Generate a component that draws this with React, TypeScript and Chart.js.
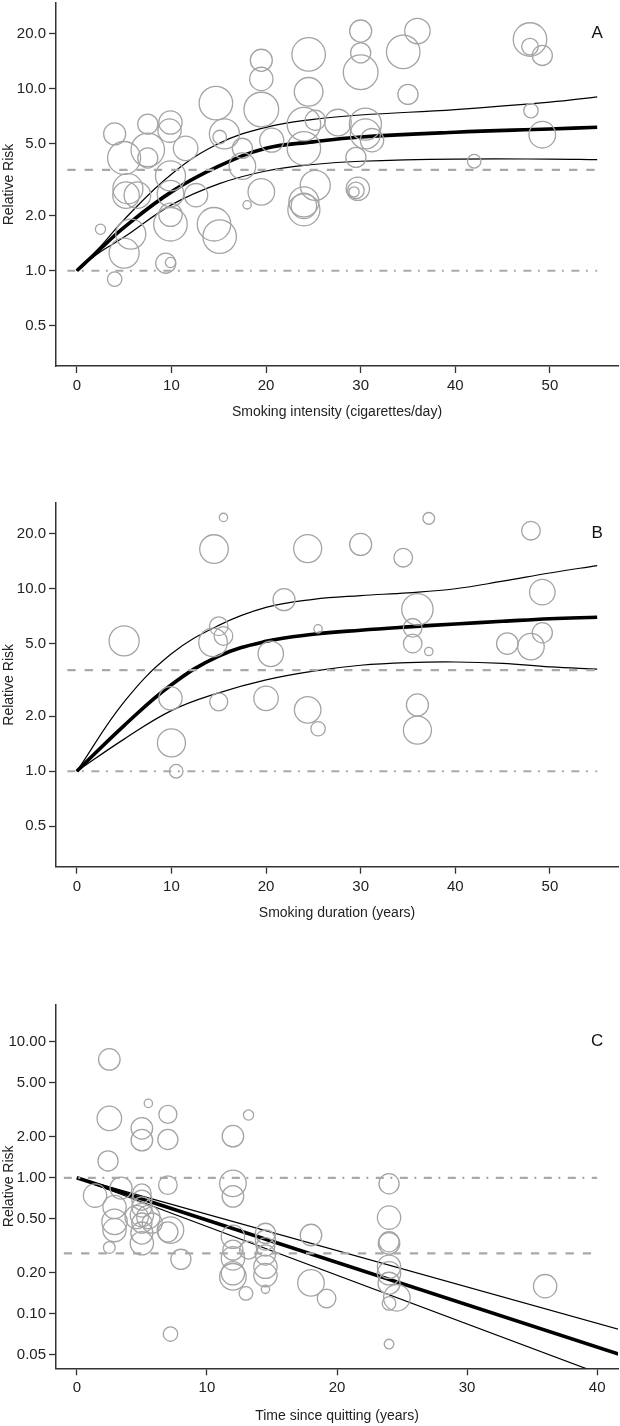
import { useEffect, useRef } from "react";
import { Chart, registerables } from "chart.js";

Chart.register(...registerables);

const FONT = '"Liberation Sans", Arial, Helvetica, sans-serif';

// ---- Panel A: smoking intensity (cigarettes/day) ----
const intensityX = [
  4.0, 5.0, 7.5, 9.9, 9.8, 7.5, 7.5, 11.5, 14.7, 15.6, 15.1, 17.5, 5.4, 5.2, 6.4, 9.9,
  9.9, 9.9, 9.9, 12.6, 5.7, 5.0, 2.5, 9.4, 9.9, 4.0, 14.5, 15.1, 17.5, 18.0, 19.5, 19.5,
  19.5, 20.6, 19.5, 24.5, 24.5, 30.0, 30.0, 30.0, 36.0, 34.5, 35.0, 47.9, 47.9, 49.2,
  48.0, 49.2, 42.0, 24.0, 25.2, 27.6, 30.5, 30.5, 31.2, 24.0, 29.5, 25.2, 24.0, 24.0,
  24.0, 29.7, 29.5, 29.3,
];
const intensityRR = [
  5.64, 4.16, 6.38, 6.51, 5.88, 4.61, 4.16, 4.7, 8.32, 5.64, 5.42, 4.7, 2.82, 2.6, 2.6, 3.32,
  2.65, 2.03, 1.8, 2.6, 1.59, 1.25, 1.69, 1.1, 1.11, 0.9, 1.8, 1.54, 3.75, 2.3, 14.3, 11.3,
  7.67, 5.21, 2.71, 15.4, 9.6, 20.7, 15.7, 12.3, 20.7, 15.9, 9.29, 18.6, 17.0, 15.2,
  7.57, 5.58, 3.99, 6.38, 6.7, 6.51, 6.38, 5.64, 5.21, 4.7, 4.19, 2.94, 2.39, 2.16,
  2.27, 2.82, 2.76, 2.71,
];
const intensityWeight = [
  42, 94, 35, 47, 47, 97, 35, 52, 97, 78, 16, 35, 78, 61, 61, 78,
  61, 47, 97, 47, 78, 78, 9, 35, 9, 18, 97, 97, 61, 6, 42, 47,
  104, 50, 61, 97, 71, 42, 35, 104, 56, 97, 35, 97, 24, 35,
  18, 61, 16, 97, 35, 61, 89, 78, 47, 97, 35, 78, 78, 89,
  56, 47, 24, 9,
];
const intensityCurveX = [0, 2.5, 5, 10, 15, 20, 25, 30, 40, 50, 55];
const intensityFit = [1, 1.32, 1.73, 2.71, 3.75, 4.7, 5.1, 5.42, 5.76, 6.0, 6.13];
const intensityUpper = [1, 1.36, 1.91, 3.39, 4.99, 6.13, 6.78, 7.16, 7.67, 8.42, 9.0];
const intensityLower = [1, 1.27, 1.53, 2.3, 3.0, 3.53, 3.83, 3.99, 4.1, 4.1, 4.07];

// ---- Panel B: smoking duration (years) ----
const durationX = [
  15.5, 14.5, 24.4, 5.0, 15.0, 15.5, 14.4, 21.9, 20.5, 9.9, 15.0, 20.0, 24.4, 10.0, 10.5,
  37.2, 48.0, 30.0, 34.5, 49.2, 36.0, 35.5, 35.5, 37.2, 25.5, 45.5, 48.0, 49.2, 36.0, 36.0, 25.5,
];
const durationRR = [
  24.6, 16.5, 16.6, 5.18, 6.23, 5.51, 5.08, 8.71, 4.4, 2.51, 2.4, 2.51, 2.17, 1.43, 1.0,
  24.3, 20.8, 17.5, 14.8, 9.58, 7.71, 6.11, 5.01, 4.53, 6.03, 5.01, 4.82, 5.74, 2.31, 1.68, 1.71,
];
const durationWeight = [
  6, 71, 68, 78, 30, 30, 71, 42, 56, 47, 28, 52, 61, 68, 16,
  12, 30, 42, 30, 56, 85, 30, 30, 6, 6, 40, 61, 35, 42, 68, 18,
];
const durationCurveX = [0, 5, 10, 15, 20, 25, 30, 35, 40, 45, 50, 55];
const durationFit = [1, 1.78, 2.98, 4.28, 5.15, 5.63, 5.93, 6.18, 6.41, 6.63, 6.85, 6.98];
const durationUpper = [1, 2.4, 4.4, 6.3, 7.9, 8.75, 9.18, 9.5, 10.0, 11.0, 12.2, 13.4];
const durationLower = [1, 1.5, 2.15, 2.69, 3.17, 3.54, 3.81, 3.94, 3.97, 3.9, 3.73, 3.63];

// ---- Panel C: time since quitting (years) ----
const quitX = [
  2.5, 2.5, 5.5, 5.0, 5.0, 7.0, 7.0, 2.4, 13.2, 12.0, 12.0, 12.0, 1.4, 3.4, 2.9, 2.9,
  2.9, 2.5, 5.0, 5.0, 5.0, 5.0, 5.0, 5.0, 5.0, 4.6, 5.5, 5.8, 7.0, 7.2, 7.0, 8.0,
  7.2, 12.0, 12.0, 12.0, 12.0, 12.0, 13.0, 13.2, 14.5, 14.5, 14.5, 14.5, 14.5, 14.5,
  14.5, 18.0, 18.0, 19.2, 24.0, 24.0, 24.0, 24.0, 24.0, 24.0, 24.0, 24.6, 24.0, 24.0, 36.0,
];
const quitRR = [
  7.4, 2.73, 3.52, 2.31, 1.89, 2.92, 1.91, 1.33, 2.89, 2.02, 0.91, 0.73, 0.74, 0.84, 0.61, 0.475,
  0.413, 0.308, 0.77, 0.686, 0.61, 0.532, 0.465, 0.393, 0.331, 0.515, 0.515, 0.465, 0.884, 0.413, 0.401, 0.252,
  0.0712, 0.369, 0.294, 0.256, 0.199, 0.1875, 0.1416, 0.294, 0.391, 0.349, 0.311, 0.271, 0.222, 0.193,
  0.1516, 0.38, 0.169, 0.13, 0.904, 0.51, 0.339, 0.33, 0.222, 0.199, 0.168, 0.1315, 0.1196, 0.0601, 0.16,
];
const quitWeight = [
  40, 52, 6, 40, 40, 28, 35, 35, 9, 40, 61, 40, 47, 42, 47, 56,
  47, 12, 30, 35, 35, 47, 35, 42, 47, 47, 47, 35, 30, 61, 35, 35,
  18, 47, 35, 47, 47, 61, 16, 28, 35, 35, 30, 35, 47, 47,
  6, 40, 61, 30, 35, 47, 35, 40, 47, 47, 42, 61, 16, 8, 47,
];
const quitCurveX = [0, 42];
const quitFit = [1, 0.0494];
const quitUpper = [1, 0.0756];
const quitLower = [1, 0.0314];

// ---- Reference lines and axes ----
const nullRR = 1;
const pooledRR_AB = 3.58;
const pooledRR_C = 0.279;
const refSpanAB = [-1, 55];
const refSpanC = [-1, 40];
const xTicksAB = [0, 10, 20, 30, 40, 50];
const xTicksC = [0, 10, 20, 30, 40];
const rrTicksAB = [0.5, 1, 2, 5, 10, 20];
const rrTicksC = [0.05, 0.1, 0.2, 0.5, 1, 2, 5, 10];

type PanelSpec = {
  label: string;
  labelAt: [number, number];
  top: number;
  height: number;
  padTop: number;
  axisHeight: number;
  titlePad: number;
  xRange: [number, number];
  yRange: [number, number];
  xTicks: number[];
  yTicks: number[];
  digits: number;
  xTitle: string;
  x: number[];
  rr: number[];
  w: number[];
  curveX: number[];
  fit: number[];
  upper: number[];
  lower: number[];
  refSpan: number[];
  pooled: number;
  smooth: boolean;
};

const panels: PanelSpec[] = [
  {
    label: "A", labelAt: [55, 20], top: 0, height: 460, padTop: 3, axisHeight: 94, titlePad: 39.6,
    xRange: [-2.2, 57.2], yRange: [0.339, 29.5], xTicks: xTicksAB, yTicks: rrTicksAB, digits: 1,
    xTitle: "Smoking intensity (cigarettes/day)",
    x: intensityX, rr: intensityRR, w: intensityWeight,
    curveX: intensityCurveX, fit: intensityFit, upper: intensityUpper, lower: intensityLower,
    refSpan: refSpanAB, pooled: pooledRR_AB, smooth: true,
  },
  {
    label: "B", labelAt: [55, 20], top: 460, height: 500, padTop: 43, axisHeight: 93.3, titlePad: 38.6,
    xRange: [-2.2, 57.2], yRange: [0.339, 29.5], xTicks: xTicksAB, yTicks: rrTicksAB, digits: 1,
    xTitle: "Smoking duration (years)",
    x: durationX, rr: durationRR, w: durationWeight,
    curveX: durationCurveX, fit: durationFit, upper: durationUpper, lower: durationLower,
    refSpan: refSpanAB, pooled: pooledRR_AB, smooth: true,
  },
  {
    label: "C", labelAt: [40, 10], top: 960, height: 466, padTop: 44.3, axisHeight: 57.7, titlePad: 1.6,
    xRange: [-1.6, 41.6], yRange: [0.0399, 18.8], xTicks: xTicksC, yTicks: rrTicksC, digits: 2,
    xTitle: "Time since quitting (years)",
    x: quitX, rr: quitRR, w: quitWeight,
    curveX: quitCurveX, fit: quitFit, upper: quitUpper, lower: quitLower,
    refSpan: refSpanC, pooled: pooledRR_C, smooth: false,
  },
];

const panelLabel = {
  id: "panelLabel",
  afterDatasetsDraw(chart: any, _args: any, opts: any) {
    const { ctx, scales } = chart;
    ctx.save();
    ctx.font = `17px ${FONT}`;
    ctx.fillStyle = "#111";
    ctx.textAlign = "center";
    ctx.textBaseline = "middle";
    ctx.fillText(opts.text, scales.x.getPixelForValue(opts.x), scales.y.getPixelForValue(opts.y));
    ctx.restore();
  },
};

function pts(xs: number[], ys: number[]) {
  return xs.map((x, i) => ({ x, y: ys[i] }));
}

// scales keep a fixed footprint so the plot area lands where the layout wants it
function noPadding(s: any) {
  s.paddingLeft = 0;
  s.paddingRight = 0;
  s.paddingTop = 0;
  s.paddingBottom = 0;
}

function buildConfig(p: PanelSpec): any {
  const bubbles = p.x.map((x, i) => ({ x, y: p.rr[i], r: 1.7 * Math.sqrt(p.w[i]) }));
  const curve = (ys: number[], width: number) => ({
    type: "line",
    data: pts(p.curveX, ys),
    borderColor: "#000",
    borderWidth: width,
    pointRadius: 0,
    tension: p.smooth ? 0.4 : 0,
    fill: false,
  });
  const ref = (value: number, dash: number[]) => ({
    type: "line",
    data: pts(p.refSpan, [value, value]),
    borderColor: "#a9a9a9",
    borderWidth: 2.2,
    borderDash: dash,
    borderCapStyle: "butt",
    pointRadius: 0,
    fill: false,
  });
  const tickFont = { family: FONT, size: 15 };
  const titleFont = { family: FONT, size: 14 };
  return {
    type: "bubble",
    data: {
      datasets: [
        ref(nullRR, [8, 6.5, 2, 7.5]),
        ref(p.pooled, [8.3, 9]),
        {
          type: "bubble",
          data: bubbles,
          backgroundColor: "rgba(0,0,0,0)",
          borderColor: "#a4a4a4",
          borderWidth: 1.3,
        },
        curve(p.upper, 1.2),
        curve(p.lower, 1.2),
        curve(p.fit, 3.6),
      ],
    },
    options: {
      responsive: false,
      animation: false,
      events: [],
      layout: { autoPadding: false, padding: { left: 0, right: 2, top: p.padTop, bottom: 0 } },
      plugins: {
        legend: { display: false },
        tooltip: { enabled: false },
        panelLabel: { text: p.label, x: p.labelAt[0], y: p.labelAt[1] },
      },
      scales: {
        x: {
          type: "linear",
          position: "bottom",
          min: p.xRange[0],
          max: p.xRange[1],
          afterBuildTicks: (s: any) => {
            s.ticks = p.xTicks.map((v) => ({ value: v }));
          },
          afterFit: (s: any) => {
            s.height = p.axisHeight;
            noPadding(s);
          },
          ticks: {
            callback: (v: any) => String(v),
            font: tickFont,
            color: "#222",
            padding: 4,
            maxRotation: 0,
            autoSkip: false,
          },
          grid: {
            display: true,
            drawOnChartArea: false,
            drawTicks: true,
            tickLength: 7,
            tickColor: "#333",
            tickWidth: 1.3,
          },
          border: { display: true, color: "#333", width: 1.5 },
          title: {
            display: true,
            text: p.xTitle,
            font: titleFont,
            color: "#222",
            padding: { top: 0, bottom: p.titlePad },
          },
        },
        y: {
          type: "logarithmic",
          min: p.yRange[0],
          max: p.yRange[1],
          afterBuildTicks: (s: any) => {
            s.ticks = p.yTicks.map((v) => ({ value: v }));
          },
          afterFit: (s: any) => {
            s.width = 56;
            noPadding(s);
          },
          ticks: {
            callback: (v: any) => Number(v).toFixed(p.digits),
            font: tickFont,
            color: "#222",
            padding: 3,
            autoSkip: false,
          },
          grid: {
            display: true,
            drawOnChartArea: false,
            drawTicks: true,
            tickLength: 7,
            tickColor: "#333",
            tickWidth: 1.3,
          },
          border: { display: true, color: "#333", width: 1.5 },
          title: {
            display: true,
            text: "Relative Risk",
            font: titleFont,
            color: "#222",
            padding: { top: 0.5, bottom: 0 },
          },
        },
      },
    },
    plugins: [panelLabel],
  };
}

function Panel({ spec }: { spec: PanelSpec }) {
  const ref = useRef<HTMLCanvasElement>(null);
  useEffect(() => {
    if (!ref.current) return;
    const chart = new Chart(ref.current, buildConfig(spec));
    return () => chart.destroy();
  }, [spec]);
  return (
    <canvas
      ref={ref}
      width={620}
      height={spec.height}
      style={{ position: "absolute", left: 0, top: spec.top, width: 620, height: spec.height }}
    />
  );
}

export default function App() {
  return (
    <div style={{ position: "absolute", left: 0, top: 0, width: 620, height: 1426, background: "#fff" }}>
      {panels.map((p) => (
        <Panel key={p.label} spec={p} />
      ))}
    </div>
  );
}
